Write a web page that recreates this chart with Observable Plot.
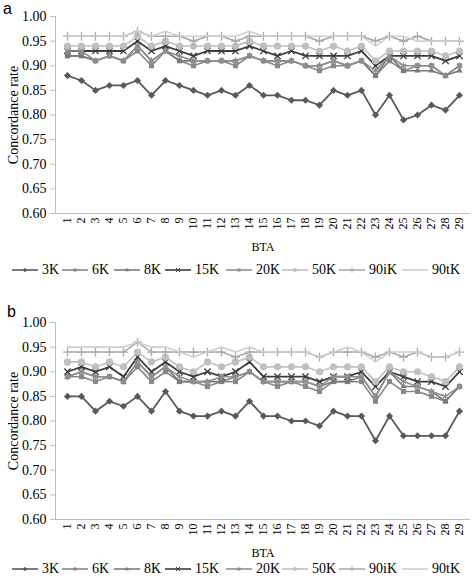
<!DOCTYPE html>
<html><head><meta charset="utf-8">
<script src="https://cdn.jsdelivr.net/npm/d3@7"></script>
<script src="https://cdn.jsdelivr.net/npm/@observablehq/plot@0.6"></script>
<style>
body{margin:0;background:#fff;}
#root{position:relative;width:472px;height:578px;overflow:hidden;font-family:"Liberation Serif","Times New Roman","DejaVu Serif",serif;}
.panel{position:absolute;left:0;}
svg.panel, svg.panel text{font-family:"Liberation Serif","Times New Roman","DejaVu Serif",serif !important;}
.letter{position:absolute;font-family:"Liberation Sans",Arial,sans-serif;font-size:16px;line-height:normal;color:#000;}
.legend{position:absolute;left:0;width:472px;height:20px;font-size:14px;color:#000;font-family:"Liberation Serif","Times New Roman","DejaVu Serif",serif;}
.legend .item{position:absolute;top:0;height:20px;display:flex;align-items:center;white-space:nowrap;}
.legend svg{margin-right:4px;}
</style>
</head><body><div id="root"></div>
<script>
// ---- data ----
const bta = [1,2,3,4,5,6,7,8,9,10,11,12,13,14,15,16,17,18,19,20,21,22,23,24,25,26,27,28,29];
const seriesNames = ["3K","6K","8K","15K","20K","50K","90iK","90tK"];
const yTicks = [0.60,0.65,0.70,0.75,0.80,0.85,0.90,0.95,1.00];

// panel a
const a3K  = [0.88,0.87,0.85,0.86,0.86,0.87,0.84,0.87,0.86,0.85,0.84,0.85,0.84,0.86,0.84,0.84,0.83,0.83,0.82,0.85,0.84,0.85,0.80,0.84,0.79,0.80,0.82,0.81,0.84];
const a6K  = [0.92,0.92,0.91,0.92,0.91,0.93,0.90,0.93,0.91,0.90,0.91,0.91,0.90,0.92,0.91,0.90,0.91,0.90,0.89,0.90,0.90,0.91,0.88,0.91,0.89,0.90,0.90,0.88,0.90];
const a8K  = [0.92,0.92,0.91,0.92,0.91,0.94,0.91,0.93,0.91,0.91,0.91,0.91,0.91,0.92,0.91,0.91,0.91,0.90,0.90,0.91,0.90,0.91,0.88,0.92,0.89,0.89,0.89,0.88,0.89];
const a15K = [0.93,0.93,0.93,0.93,0.93,0.95,0.93,0.94,0.93,0.92,0.93,0.93,0.93,0.94,0.93,0.92,0.93,0.92,0.92,0.92,0.92,0.93,0.90,0.92,0.92,0.92,0.92,0.91,0.92];
const a20K = [0.93,0.93,0.91,0.92,0.91,0.94,0.91,0.93,0.92,0.91,0.91,0.91,0.91,0.92,0.91,0.91,0.91,0.90,0.90,0.91,0.90,0.91,0.89,0.92,0.90,0.90,0.90,0.88,0.90];
const a50K = [0.94,0.94,0.94,0.94,0.94,0.96,0.94,0.95,0.94,0.94,0.94,0.94,0.94,0.95,0.94,0.94,0.94,0.94,0.93,0.94,0.93,0.94,0.91,0.93,0.93,0.93,0.93,0.92,0.93];
const a90iK= [0.96,0.96,0.96,0.96,0.96,0.97,0.96,0.96,0.96,0.95,0.96,0.96,0.95,0.96,0.96,0.96,0.96,0.96,0.95,0.96,0.96,0.96,0.95,0.96,0.95,0.96,0.95,0.95,0.95];
const a90tK= [0.96,0.96,0.96,0.96,0.96,0.97,0.96,0.97,0.96,0.96,0.96,0.96,0.96,0.97,0.96,0.96,0.96,0.96,0.96,0.96,0.96,0.96,0.94,0.96,0.96,0.95,0.95,0.95,0.95];

// panel b
const b3K  = [0.85,0.85,0.82,0.84,0.83,0.85,0.82,0.86,0.82,0.81,0.81,0.82,0.81,0.84,0.81,0.81,0.80,0.80,0.79,0.82,0.81,0.81,0.76,0.81,0.77,0.77,0.77,0.77,0.82];
const b6K  = [0.89,0.89,0.88,0.89,0.88,0.91,0.88,0.90,0.88,0.88,0.87,0.88,0.88,0.90,0.88,0.87,0.88,0.87,0.86,0.88,0.88,0.88,0.84,0.88,0.86,0.86,0.85,0.84,0.87];
const b8K  = [0.89,0.90,0.89,0.89,0.88,0.92,0.89,0.91,0.88,0.88,0.88,0.88,0.89,0.90,0.88,0.88,0.88,0.88,0.87,0.88,0.88,0.89,0.85,0.90,0.87,0.87,0.86,0.84,0.87];
const b15K = [0.90,0.91,0.90,0.91,0.89,0.93,0.90,0.92,0.90,0.89,0.90,0.89,0.90,0.92,0.89,0.89,0.89,0.89,0.88,0.89,0.89,0.90,0.87,0.90,0.89,0.88,0.88,0.87,0.90];
const b20K = [0.89,0.90,0.89,0.89,0.88,0.92,0.89,0.91,0.89,0.88,0.88,0.89,0.89,0.90,0.88,0.88,0.88,0.88,0.87,0.89,0.89,0.89,0.85,0.90,0.88,0.87,0.86,0.85,0.87];
const b50K = [0.92,0.92,0.91,0.92,0.91,0.94,0.92,0.93,0.91,0.90,0.92,0.91,0.92,0.93,0.91,0.91,0.91,0.91,0.90,0.91,0.91,0.91,0.88,0.91,0.90,0.90,0.89,0.88,0.91];
const b90iK= [0.94,0.94,0.94,0.94,0.94,0.96,0.94,0.94,0.94,0.94,0.94,0.94,0.93,0.94,0.94,0.94,0.94,0.94,0.93,0.94,0.94,0.94,0.93,0.94,0.93,0.94,0.93,0.93,0.94];
const b90tK= [0.95,0.95,0.95,0.95,0.95,0.96,0.95,0.95,0.94,0.93,0.94,0.95,0.94,0.95,0.94,0.94,0.94,0.94,0.93,0.94,0.95,0.94,0.92,0.94,0.94,0.94,0.93,0.93,0.94];

// ---- styles ----
const styles = {
  "3K":  {color:"#595959", symbol:"diamond2", filled:true,  r:3.2, w:1.8},
  "6K":  {color:"#878787", symbol:"square2",  filled:true,  r:3.2, w:1.6},
  "8K":  {color:"#7a7a7a", symbol:"triangle2",filled:true,  r:3.0, w:1.6},
  "15K": {color:"#3c3c3c", symbol:"times",    filled:false, r:3.0, w:1.8},
  "20K": {color:"#8f8f8f", symbol:"asterisk", filled:false, r:3.0, w:1.6},
  "50K": {color:"#c0c0c0", symbol:"circle",   filled:true,  r:3.6, w:1.6},
  "90iK":{color:"#ababab", symbol:"plus",     filled:false, r:3.0, w:1.6},
  "90tK":{color:"#cfcfcf", symbol:null,       filled:false, r:0,   w:1.6}
};

const root = document.getElementById("root");
const serif = "'Liberation Serif','Times New Roman','DejaVu Serif',serif";

function makePanel(valuesList, top, height, mt, mb) {
  const marks = [];
  seriesNames.forEach((name, k) => {
    const st = styles[name];
    const d = valuesList[k].map((v, i) => ({bta: bta[i], v}));
    marks.push(Plot.line(d, {x: "bta", y: "v", stroke: st.color, strokeWidth: st.w}));
    if (st.symbol) {
      marks.push(Plot.dot(d, {x: "bta", y: "v", symbol: st.symbol, r: st.r,
        fill: st.filled ? st.color : "none", stroke: st.filled ? "none" : st.color, strokeWidth: 1.3}));
    }
  });
  const plot = Plot.plot({
    width: 472, height, marginLeft: 55, marginRight: 2, marginTop: mt, marginBottom: mb,
    style: {fontFamily: serif, fontSize: "14px", color: "#000", background: "#fff"},
    x: {type: "point", domain: bta, padding: 0.5},
    y: {domain: [0.6, 1.0]},
    marks: [
      Plot.ruleY([0.6], {stroke: "#bdbdbd", strokeWidth: 1}),
      Plot.frame({anchor: "left", stroke: "#bdbdbd"}),
      Plot.axisY({ticks: yTicks, tickFormat: d3.format(".2f"), tickSize: 5, tickPadding: 4, stroke: "#bdbdbd",
        fontSize: 14, label: "Concordance rate", labelAnchor: "center", labelArrow: "none", labelOffset: 47}),
      Plot.axisX({tickRotate: -90, tickSize: 0, tickPadding: 4, fontSize: 12,
        label: "BTA", labelAnchor: "center", labelArrow: "none", labelOffset: 37}),
      ...marks
    ]
  });
  plot.classList.add("panel");
  plot.style.top = top + "px";
  root.appendChild(plot);
}

function addLetter(text, left, top) {
  const d = document.createElement("div");
  d.className = "letter";
  d.textContent = text;
  d.style.left = left + "px";
  d.style.top = top + "px";
  root.appendChild(d);
}

const legendLefts = [12, 62, 114, 165, 226, 282, 339, 402];
function addLegend(top) {
  const lg = document.createElement("div");
  lg.className = "legend";
  lg.style.top = top + "px";
  seriesNames.forEach((name, k) => {
    const st = styles[name];
    const item = document.createElement("div");
    item.className = "item";
    item.style.left = legendLefts[k] + "px";
    const svg = d3.create("svg").attr("width", 26).attr("height", 10);
    svg.append("line").attr("x1", 0).attr("x2", 26).attr("y1", 5).attr("y2", 5)
      .attr("stroke", st.color).attr("stroke-width", 1.6);
    if (st.symbol) {
      const map = {diamond2: d3.symbolDiamond2, square2: d3.symbolSquare2, triangle2: d3.symbolTriangle2,
        times: d3.symbolTimes, asterisk: d3.symbolAsterisk, circle: d3.symbolCircle, plus: d3.symbolPlus};
      svg.append("path").attr("transform", "translate(13,5)")
        .attr("d", d3.symbol(map[st.symbol], 12)())
        .attr("fill", st.filled ? st.color : "none")
        .attr("stroke", st.filled ? "none" : st.color).attr("stroke-width", 1);
    }
    item.appendChild(svg.node());
    const t = document.createElement("span");
    t.textContent = name;
    item.appendChild(t);
    lg.appendChild(item);
  });
  root.appendChild(lg);
}

makePanel([a3K,a6K,a8K,a15K,a20K,a50K,a90iK,a90tK], 0, 260, 16, 47);
addLetter("a", 3, 0);
addLegend(260);
makePanel([b3K,b6K,b8K,b15K,b20K,b50K,b90iK,b90tK], 280, 280, 42, 41);
addLetter("b", 7, 303);
addLegend(559);
</script>
</body></html>
